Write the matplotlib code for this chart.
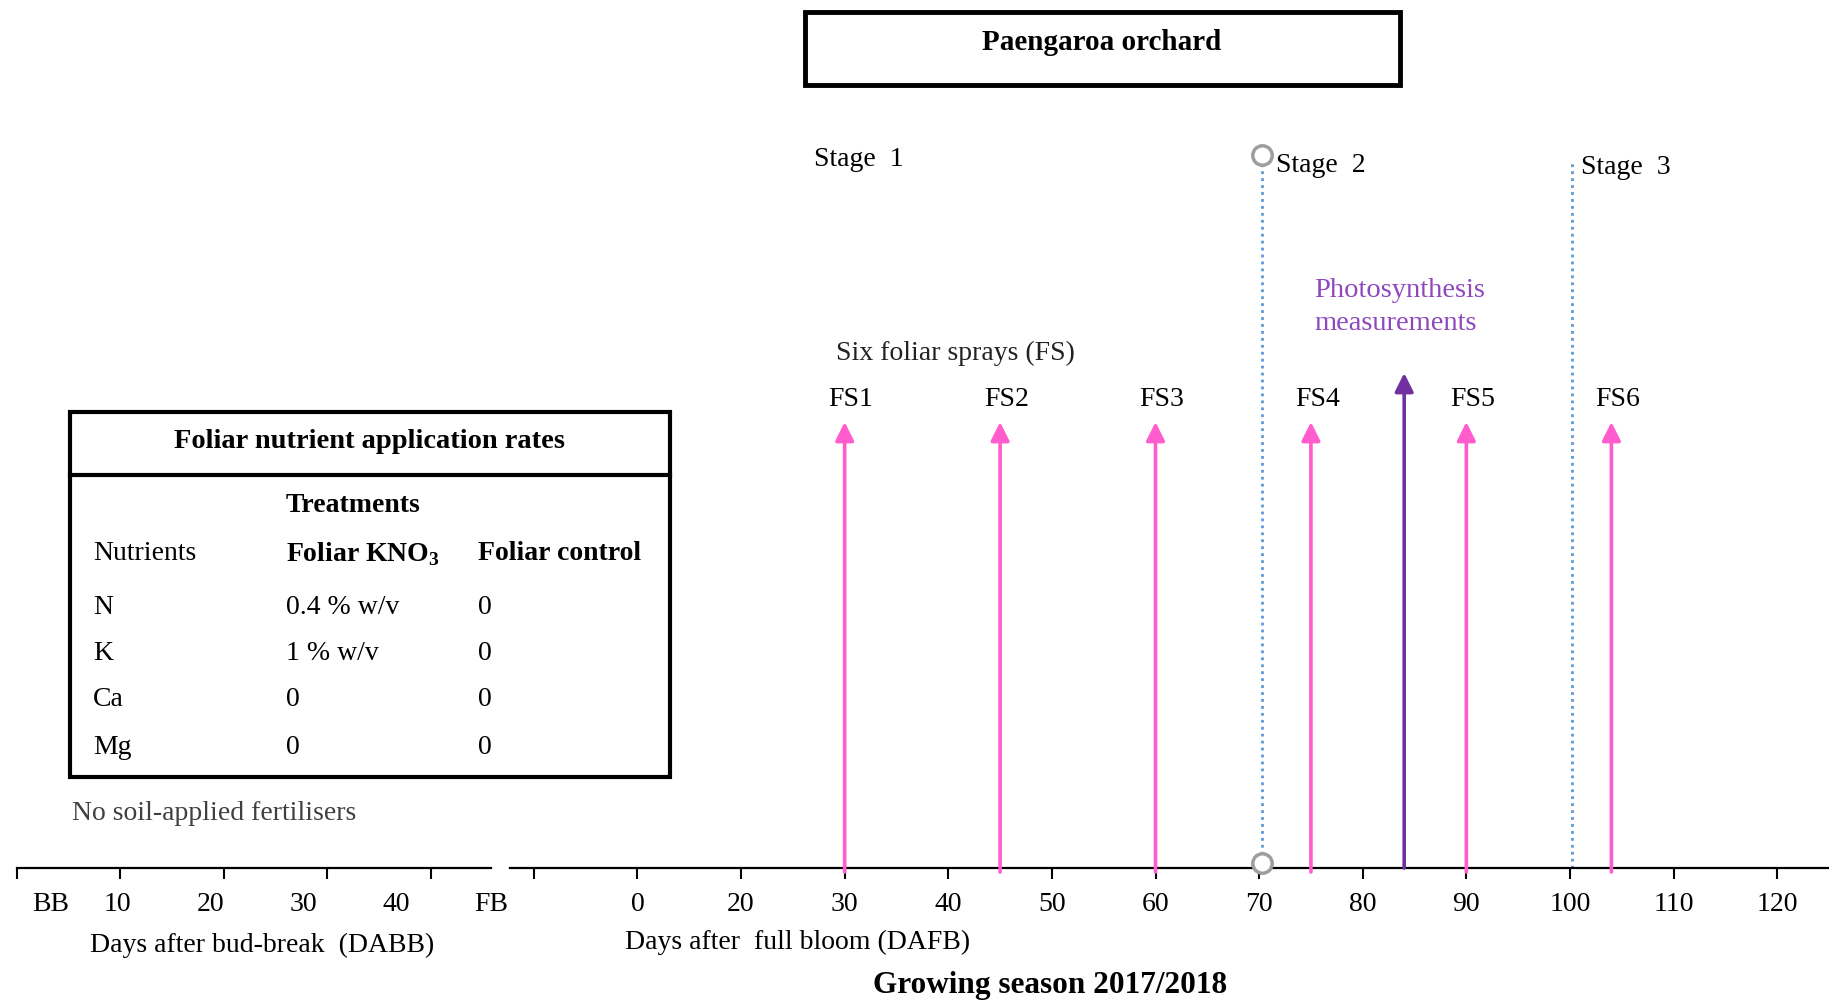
import matplotlib
matplotlib.use("Agg")
import matplotlib.pyplot as plt
from matplotlib.patches import Rectangle

plt.rcParams["font.family"] = ["Liberation Serif", "DejaVu Serif"]
plt.rcParams["mathtext.fontset"] = "custom"
plt.rcParams["mathtext.rm"] = "Liberation Serif"
plt.rcParams["mathtext.bf"] = "Liberation Serif:bold"

# timeline data (days after full bloom)
spray_labels = ["FS1", "FS2", "FS3", "FS4", "FS5", "FS6"]
spray_days = [30, 45, 60, 75, 90, 104]
spray_height = 446
photo_day = 84
photo_height = 495
stage_names = ["Stage  1", "Stage  2", "Stage  3"]
stage_label_x = [27.0, 71.6, 101.1]
stage_label_y = [708, 703, 701]
stage_bounds = [70.3, 100.2]
stage_tops = [713, 708]

dafb_ticks = list(range(0, 130, 10))
dafb_labels = ["", "0", "20", "30", "40", "50", "60", "70", "80", "90", "100", "110", "120"]
dabb_ticks = [0, 10, 20, 30, 40]
dabb_label_pos = [3.3, 9.7, 18.7, 27.7, 36.6, 45.8]
dabb_labels = ["BB", "10", "20", "30", "40", "FB"]

# table contents
nutrients = ["N", "K", "Ca", "Mg"]
kno3_rates = ["0.4 % w/v", "1 % w/v", "0", "0"]
control_rates = ["0", "0", "0", "0"]

pink = "#ff5ccd"
purple = "#7030a0"
purple_text = "#8e47bf"
blue = "#5b9bd5"
fs = 20
W, H = 1829, 1001

fig = plt.figure(figsize=(W / 100, H / 100), dpi=100)

# pixel-space layer for boxes and free text
bg = fig.add_axes([0, 0, 1, 1])
bg.set_xlim(0, W)
bg.set_ylim(H, 0)
bg.axis("off")

bg.add_patch(Rectangle((805, 12), 595, 73, fill=False, lw=3.5, ec="black"))
bg.text(1102, 42, "Paengaroa orchard", ha="center", va="center", fontsize=21, fontweight="bold")

# table
bg.add_patch(Rectangle((70, 412), 600, 365, fill=False, lw=3, ec="black"))
bg.plot([70, 670], [475, 475], color="black", lw=3)
bg.text(370, 442, "Foliar nutrient application rates", ha="center", va="center",
        fontsize=fs + 0.5, fontweight="bold")
col_x = [93, 286, 478]
bg.text(col_x[1], 505, "Treatments", va="center", fontsize=fs, fontweight="bold")
bg.text(col_x[0], 554, "Nutrients", va="center", fontsize=fs)
bg.text(col_x[1], 554, r"Foliar KNO$_\mathbf{3}$", va="center", fontsize=fs, fontweight="bold")
bg.text(col_x[2], 554, "Foliar control", va="center", fontsize=fs, fontweight="bold")
row_y = [607, 653, 700, 747]
for nut, kno3, ctrl, y in zip(nutrients, kno3_rates, control_rates, row_y):
    bg.text(col_x[0], y, nut, va="center", fontsize=fs)
    bg.text(col_x[1], y, kno3, va="center", fontsize=fs)
    bg.text(col_x[2], y, ctrl, va="center", fontsize=fs)
bg.text(72, 814, "No soil-applied fertilisers", va="center", fontsize=fs, color="#404040")

bg.text(262, 945, "Days after bud-break  (DABB)", ha="center", va="center", fontsize=fs)
bg.text(798, 942, "Days after  full bloom (DAFB)", ha="center", va="center", fontsize=fs)
bg.text(1050, 986, "Growing season 2017/2018", ha="center", va="center", fontsize=22.5,
        fontweight="bold")

# DAFB timeline
ax = fig.add_axes([510 / W, 1 - 868 / H, 1 - 510 / W, 868 / H])
ax.patch.set_alpha(0)
ax.set_xlim(-2.3, 125.0)
ax.set_ylim(0, 868)
for s in ["top", "left", "right"]:
    ax.spines[s].set_visible(False)
ax.spines["bottom"].set_linewidth(1.6)
ax.set_yticks([])
ax.set_xticks(dafb_ticks)
ax.set_xticklabels(dafb_labels, fontsize=fs)
ax.tick_params(axis="x", length=8, width=1.5, pad=9)

for day, lab in zip(spray_days, spray_labels):
    ax.annotate("", xy=(day, spray_height), xytext=(day, -4),
                arrowprops=dict(arrowstyle="-|>", color=pink, lw=2.6, mutation_scale=28,
                                shrinkA=0, shrinkB=0))
    ax.text(day + 0.6, 468, lab, ha="center", va="center", fontsize=fs)
ax.text(29.2, 515, "Six foliar sprays (FS)", ha="left", va="center", fontsize=fs, color="#222222")

ax.annotate("", xy=(photo_day, photo_height), xytext=(photo_day, 0),
            arrowprops=dict(arrowstyle="-|>", color=purple, lw=2.6, mutation_scale=28,
                            shrinkA=0, shrinkB=0))
ax.text(75.3, 561, "Photosynthesis\nmeasurements", ha="left", va="center", fontsize=fs + 0.5,
        color=purple_text, linespacing=1.45)

ax.vlines(stage_bounds, 0, stage_tops, colors=blue, linestyles=(0, (1, 1.5)), lw=2)
ax.plot([stage_bounds[0], stage_bounds[0]], [5, stage_tops[0]], ls="none", marker="o",
        ms=14, mfc="white", mec="#9e9e9e", mew=2.5, clip_on=False, zorder=5)
for name, x, y in zip(stage_names, stage_label_x, stage_label_y):
    ax.text(x, y, name, ha="left", va="center", fontsize=fs)

# DABB timeline
ax2 = fig.add_axes([17 / W, 1 - 868 / H, (491 - 17) / W, 0.01])
ax2.patch.set_alpha(0)
ax2.set_xlim(0, 45.8)
for s in ["top", "left", "right"]:
    ax2.spines[s].set_visible(False)
ax2.spines["bottom"].set_linewidth(1.6)
ax2.set_yticks([])
ax2.set_xticks(dabb_ticks)
ax2.set_xticklabels([""] * len(dabb_ticks))
ax2.set_xticks(dabb_label_pos, minor=True)
ax2.set_xticklabels(dabb_labels, minor=True, fontsize=fs)
ax2.tick_params(axis="x", which="major", length=8, width=1.5)
ax2.tick_params(axis="x", which="minor", length=0, pad=17)

fig.savefig("out.png", dpi=100)
